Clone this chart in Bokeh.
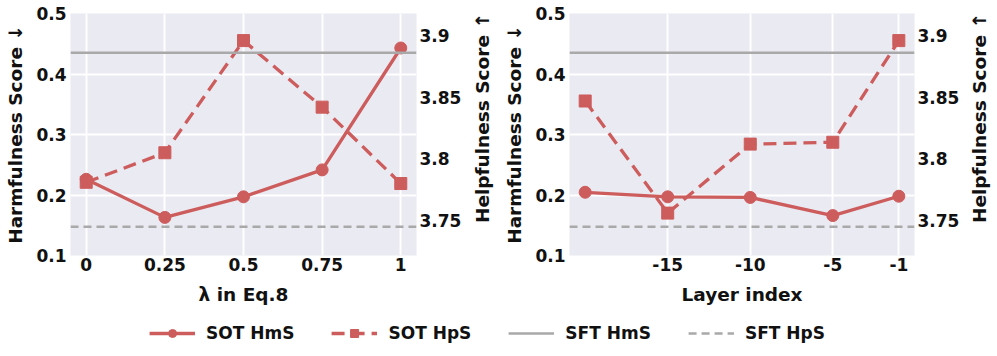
import math
from bokeh.plotting import figure
from bokeh.models import Range1d, LinearAxis, FixedTicker, Span, Legend, LegendItem, Label
from bokeh.layouts import column, row
from bokeh.embed import file_html
from bokeh.resources import INLINE

# ---- data ----
lam = [0, 0.25, 0.5, 0.75, 1]
lam_labels = ["0", "0.25", "0.5", "0.75", "1"]
lam_hms = [0.226, 0.163, 0.197, 0.2415, 0.443]
lam_hps = [3.781, 3.805, 3.896, 3.842, 3.780]

layer = [-20, -15, -10, -5, -1]
layer_ticks = [-15, -10, -5, -1]
layer_labels = ["-15", "-10", "-5", "-1"]
layer_hms = [0.2045, 0.197, 0.196, 0.166, 0.198]
layer_hps = [3.847, 3.756, 3.812, 3.8135, 3.896]

sft_hms = 0.435
sft_hps = 3.745

hms_ticks = [0.1, 0.2, 0.3, 0.4, 0.5]
hms_labels = ["0.1", "0.2", "0.3", "0.4", "0.5"]
hps_ticks = [3.75, 3.8, 3.85, 3.9]
hps_labels = ["3.75", "3.8", "3.85", "3.9"]

series_names = ["SOT HmS", "SOT HpS", "SFT HmS", "SFT HpS"]
hm_title = "Harmfulness Score ↓"
hp_title = "Helpfulness Score ↑"

# ---- style ----
RED = "#CD5C5C"
GRAY = "#A9A9A9"
BG = "#EAEAF2"
FONT = "DejaVu Sans"
TXT = "#111111"
FRAME_W = 346
FRAME_H = 242
TOP = 13
ROW_H = 310
LW = 3.3
MS = 12
TITLE_FS = "18.5px"


def style_axis(ax, title=None):
    ax.axis_line_color = None
    ax.major_tick_line_color = None
    ax.minor_tick_line_color = None
    ax.major_tick_out = 0
    ax.major_tick_in = 0
    ax.major_label_text_font = FONT
    ax.major_label_text_font_size = "17px"
    ax.major_label_text_font_style = "bold"
    ax.major_label_text_color = TXT
    if title is not None:
        ax.axis_label = title
        ax.axis_label_text_font = FONT
        ax.axis_label_text_font_size = TITLE_FS
        ax.axis_label_text_font_style = "bold"
        ax.axis_label_text_color = TXT


def make_panel(xs, hms, hps, xr, xticks, xlabels, xtitle, bl, br):
    p = figure(width=bl + FRAME_W + br, height=ROW_H, output_backend="svg",
               toolbar_location=None,
               x_range=Range1d(*xr), y_range=Range1d(0.1, 0.5),
               min_border_left=bl, min_border_right=br, min_border_top=TOP,
               min_border_bottom=ROW_H - TOP - FRAME_H)
    p.extra_y_ranges = {"hp": Range1d(3.7216, 3.918)}
    p.background_fill_color = BG
    p.border_fill_color = "white"
    p.outline_line_color = None

    p.xaxis.ticker = FixedTicker(ticks=xticks)
    p.xaxis.major_label_overrides = dict(zip(xticks, xlabels))
    p.yaxis.ticker = FixedTicker(ticks=hms_ticks)
    p.yaxis.major_label_overrides = dict(zip(hms_ticks, hms_labels))
    style_axis(p.xaxis[0], xtitle)
    style_axis(p.yaxis[0], hm_title)
    p.xaxis.major_label_standoff = 2
    p.xaxis.axis_label_standoff = 10
    p.yaxis.major_label_standoff = 4
    p.yaxis.axis_label_standoff = 7

    rax = LinearAxis(y_range_name="hp", ticker=FixedTicker(ticks=hps_ticks))
    rax.major_label_overrides = dict(zip(hps_ticks, hps_labels))
    style_axis(rax)
    rax.major_label_standoff = 3
    p.add_layout(rax, "right")

    p.xgrid.grid_line_color = "white"
    p.xgrid.grid_line_width = 2
    p.ygrid.grid_line_color = "white"
    p.ygrid.grid_line_width = 2

    p.add_layout(Span(location=sft_hms, dimension="width", line_color=GRAY, line_width=2.5))
    p.add_layout(Span(location=sft_hps, dimension="width", y_range_name="hp",
                      line_color=GRAY, line_width=2.5, line_dash="8 5"))

    p.line(xs, hms, line_color=RED, line_width=LW)
    p.scatter(xs, hms, marker="circle", size=MS, fill_color=RED, line_color=RED)
    p.line(xs, hps, line_color=RED, line_width=LW, line_dash="13 7", y_range_name="hp")
    p.scatter(xs, hps, marker="square", size=MS, fill_color=RED, line_color=RED,
              y_range_name="hp")
    return p


def title_strip(width, cx):
    # narrow strip holding the right-hand axis title, read bottom-to-top
    t = figure(width=width, height=ROW_H, output_backend="svg", toolbar_location=None,
               x_range=Range1d(0, width), y_range=Range1d(0, ROW_H),
               min_border_left=0, min_border_right=0, min_border_top=0,
               min_border_bottom=0)
    t.axis.visible = False
    t.grid.visible = False
    t.outline_line_color = None
    t.background_fill_color = "white"
    t.add_layout(Label(x=cx, y=ROW_H - TOP - FRAME_H / 2, text=hp_title, angle=math.pi / 2,
                       text_align="center", text_baseline="middle",
                       text_font=FONT, text_font_size=TITLE_FS, text_font_style="bold",
                       text_color=TXT))
    return t


p1 = make_panel(lam, lam_hms, lam_hps, (-0.05, 1.05), lam, lam_labels,
                "λ in Eq.8", 70, 48)
t1 = title_strip(33, 18.3)
p2 = make_panel(layer, layer_hms, layer_hps, (-20.95, -0.05), layer_ticks, layer_labels,
                "Layer index", 72, 47)
t2 = title_strip(35, 17.3)

# ---- legend figure (its ranges keep the series out of view; only the legend shows) ----
pl = figure(width=997, height=46, output_backend="svg", toolbar_location=None,
            x_range=Range1d(10, 11), y_range=Range1d(10, 11),
            min_border_left=0, min_border_right=23, min_border_top=0, min_border_bottom=0)
pl.axis.visible = False
pl.grid.visible = False
pl.outline_line_color = None
pl.background_fill_alpha = 0
r1 = pl.line(lam, lam_hms, line_color=RED, line_width=LW)
r1m = pl.scatter(lam, lam_hms, marker="circle", size=MS, fill_color=RED, line_color=RED)
r2 = pl.line(lam, lam_hps, line_color=RED, line_width=LW, line_dash="13 7")
r2m = pl.scatter(lam, lam_hps, marker="square", size=MS, fill_color=RED, line_color=RED)
r3 = pl.line([lam[0], lam[-1]], [sft_hms, sft_hms], line_color=GRAY, line_width=2.5)
r4 = pl.line([lam[0], lam[-1]], [sft_hps, sft_hps], line_color=GRAY, line_width=2.5,
             line_dash="8 5")
leg = Legend(items=[LegendItem(label=series_names[0], renderers=[r1, r1m]),
                    LegendItem(label=series_names[1], renderers=[r2, r2m]),
                    LegendItem(label=series_names[2], renderers=[r3]),
                    LegendItem(label=series_names[3], renderers=[r4])],
             orientation="horizontal", location="center",
             glyph_width=46, glyph_height=20, label_standoff=11, spacing=37,
             padding=0, margin=0, border_line_color=None, background_fill_alpha=0,
             label_text_font=FONT, label_text_font_size="17px",
             label_text_font_style="bold", label_text_color=TXT)
pl.add_layout(leg, "center")

layout = column(row(p1, t1, p2, t2), pl)
open("out.html", "w").write(file_html(layout, INLINE))
